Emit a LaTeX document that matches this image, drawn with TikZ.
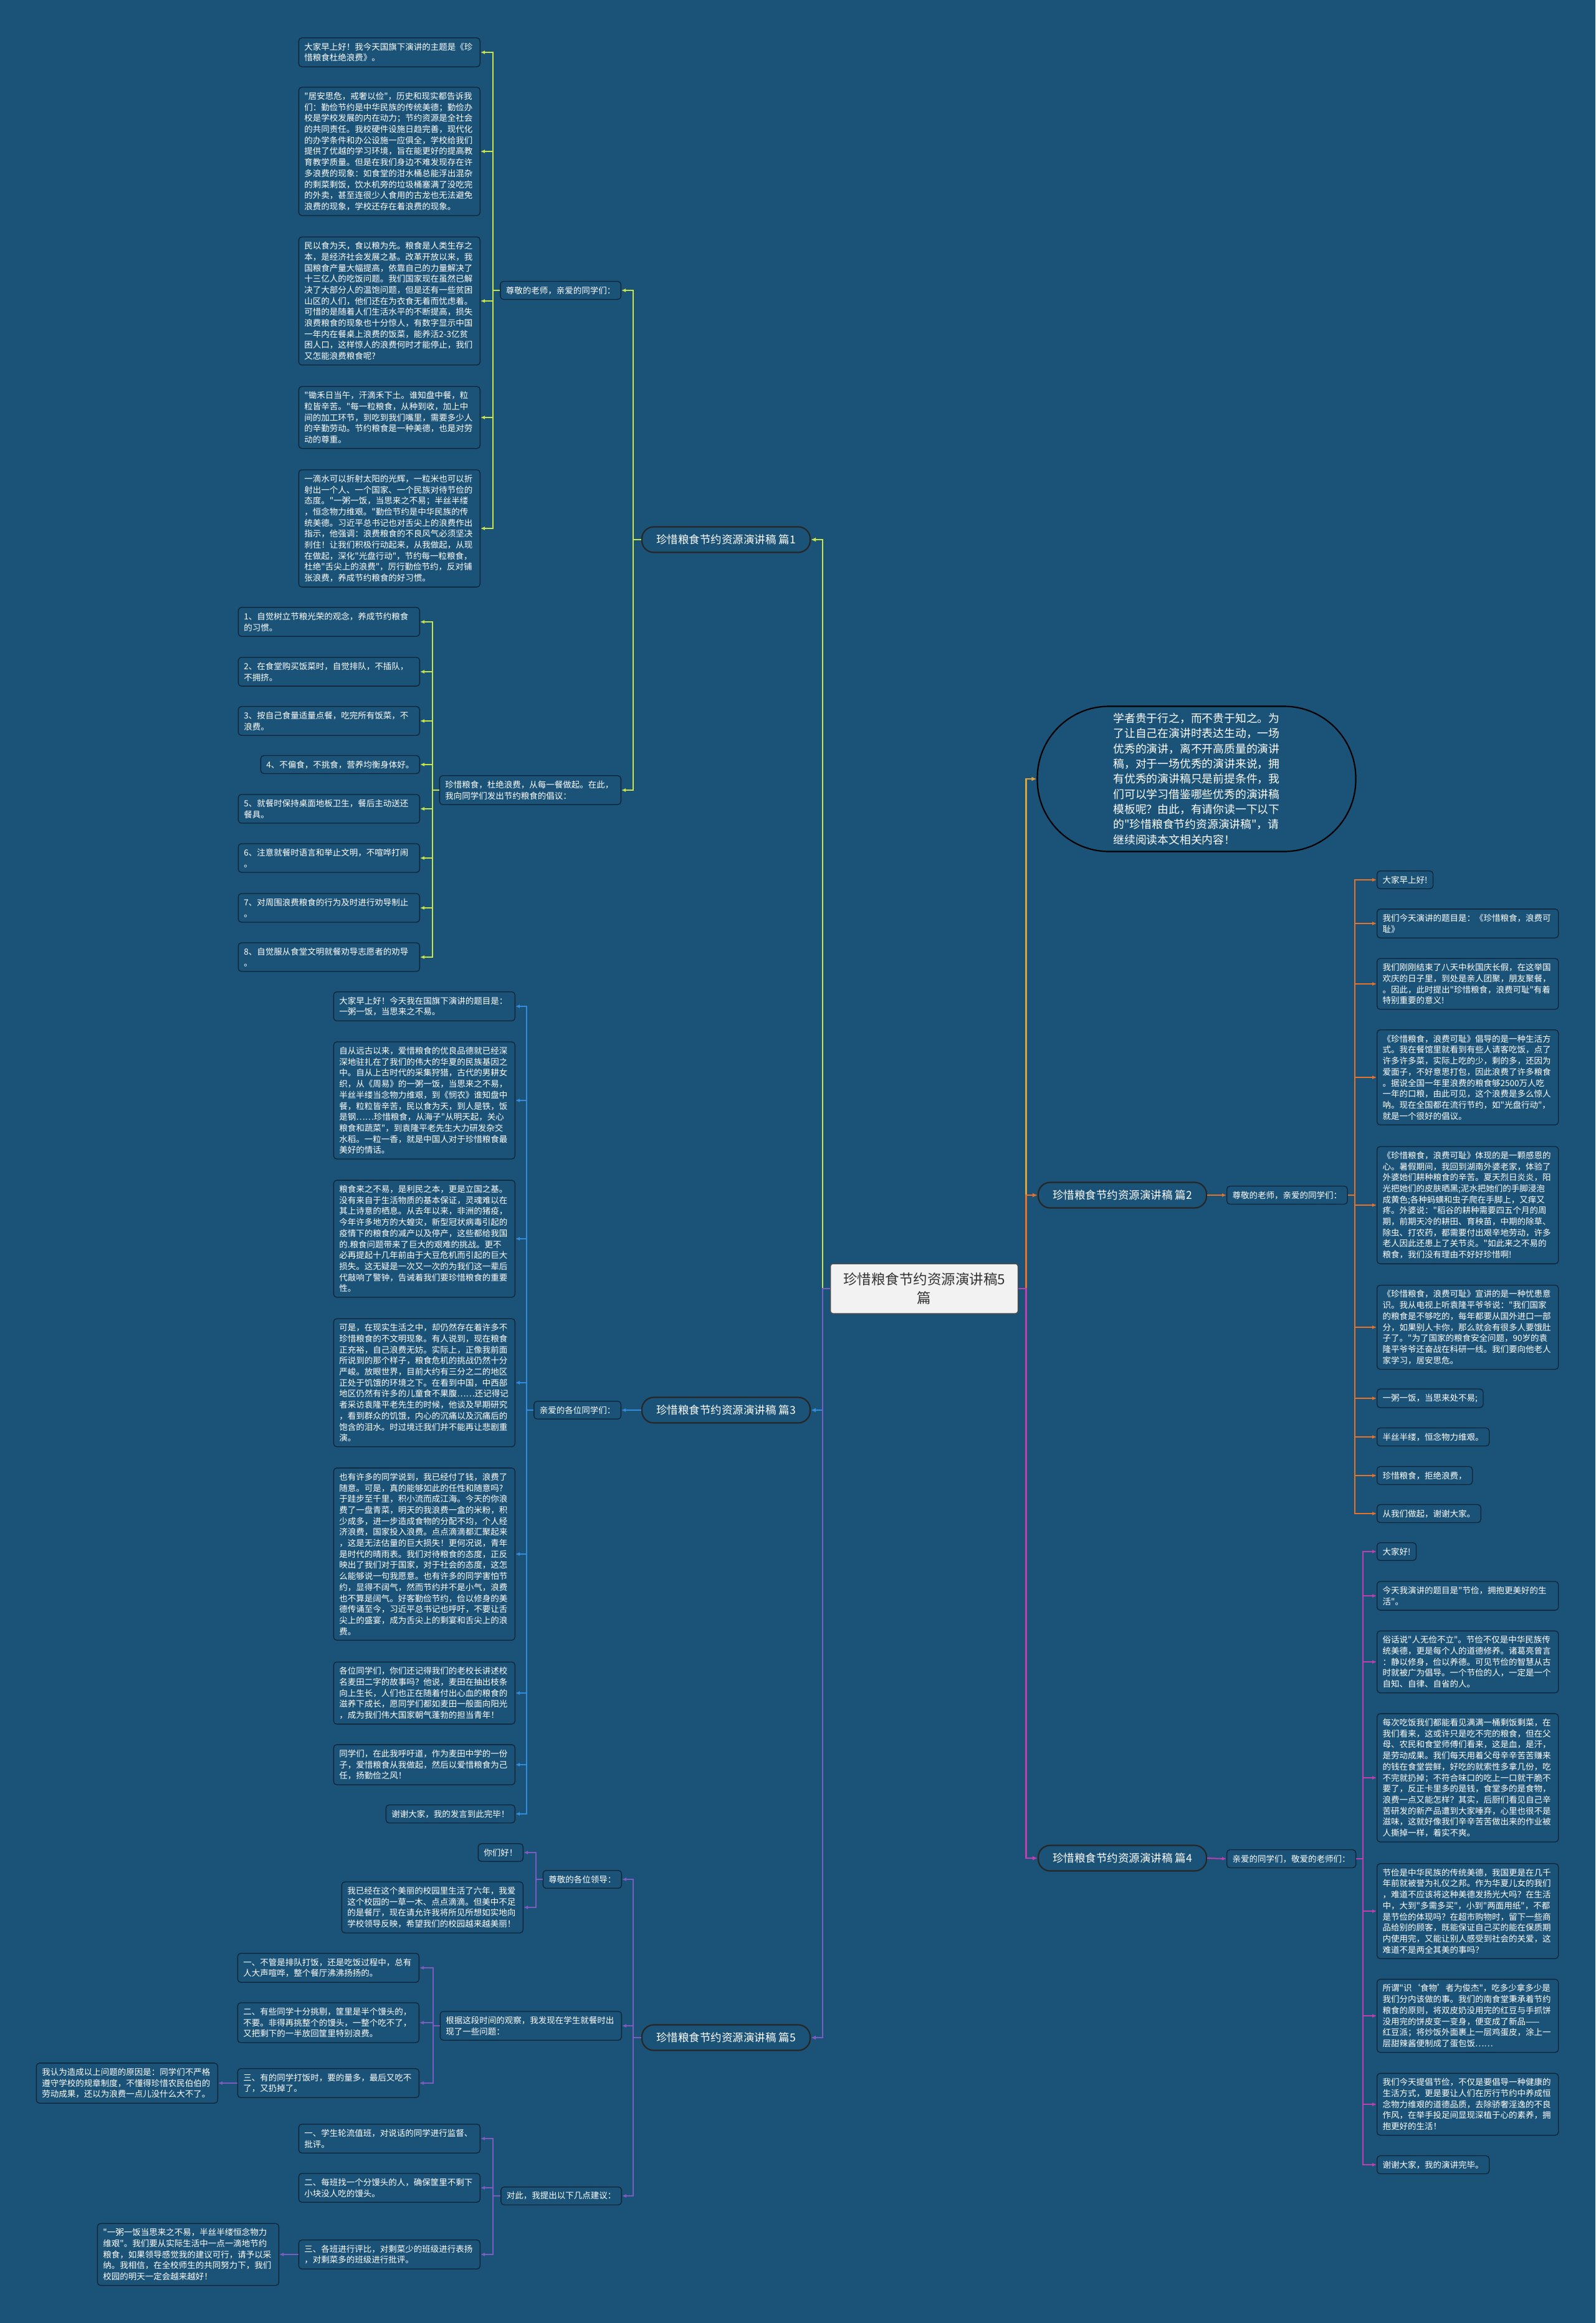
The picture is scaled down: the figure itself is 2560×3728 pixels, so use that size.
\documentclass[tikz,border=0pt]{standalone}
\usepackage{fontspec}
\setmainfont{Noto Sans CJK SC}[Ligatures=TeXOff]
\usetikzlibrary{arrows.meta}
\definecolor{bg}{RGB}{27,83,120}
\definecolor{boxline}{RGB}{14,36,54}
\definecolor{cyel}{RGB}{200,228,70}
\definecolor{cblue}{RGB}{52,140,220}
\definecolor{cpurp}{RGB}{125,92,192}
\definecolor{cgold}{RGB}{222,164,58}
\definecolor{corng}{RGB}{232,115,40}
\definecolor{cmag}{RGB}{192,62,176}
\definecolor{ctext}{RGB}{51,51,51}
\begin{document}
\begin{tikzpicture}[x=1pt,y=-1pt,
 box/.style={draw=boxline, fill=bg, line width=1.3pt, rounded corners=5pt, text=white, inner xsep=9pt, inner ysep=8pt, font=\fontsize{13.5pt}{17.7pt}\selectfont, align=left},
 wbox/.style={box, text width=273pt},
 branch/.style={draw=black!85, fill=bg, line width=2.2pt, rounded corners=19pt, text=white, font=\fontsize{17.5pt}{21pt}\selectfont, inner xsep=20pt, inner ysep=10pt, minimum width=270pt, minimum height=41pt},
 conn/.style={line width=2pt, -{Latex[length=7pt,width=6pt]}},
 main/.style={line width=2.5pt, -{Latex[length=8pt,width=7pt]}}
]
\fill[bg] (0,0) rectangle (2560,3728);
\useasboundingbox (0,0) rectangle (2560,3728);

% center
\node[draw=black!70, fill={rgb,255:red,242;green,242;blue,242}, line width=1.5pt, rounded corners=4pt, text=ctext, font=\fontsize{22.5pt}{30pt}\selectfont, align=center, minimum width=301pt, minimum height=80pt] (c) at (1483,2068) {珍惜粮食节约资源演讲稿5\\篇};

% branch nodes
\node[branch] (b1) at (1165,866) {珍惜粮食节约资源演讲稿 篇1};
\node[branch] (b3) at (1165,2263) {珍惜粮食节约资源演讲稿 篇3};
\node[branch] (b5) at (1165,3270) {珍惜粮食节约资源演讲稿 篇5};
\node[branch] (b2) at (1801,1918) {珍惜粮食节约资源演讲稿 篇2};
\node[branch] (b4) at (1801,2982) {珍惜粮食节约资源演讲稿 篇4};

% intro
\node[draw=black, fill=bg, line width=2.2pt, rounded corners=115pt, text=white, minimum width=511pt, minimum height=233pt, font=\fontsize{17.8pt}{24.3pt}\selectfont, align=left] (intro) at (1920,1250) {学者贵于行之，而不贵于知之。为\\了让自己在演讲时表达生动，一场\\优秀的演讲，离不开高质量的演讲\\稿，对于一场优秀的演讲来说，拥\\有优秀的演讲稿只是前提条件，我\\们可以学习借鉴哪些优秀的演讲稿\\模板呢？由此，有请你读一下以下\\的"珍惜粮食节约资源演讲稿"，请\\继续阅读本文相关内容！};

\draw[main, cgold] (c.east) -- ++(12,0) |- (intro.west);
\draw[main, corng] (c.east) -- ++(12,0) |- (b2.west);
\draw[main, cmag] (c.east) -- ++(12,0) |- (b4.west);
\draw[main, cyel] (c.west) -- ++(-12,0) |- (b1.east);
\draw[main, cblue] (c.west) -- ++(-12,0) |- (b3.east);
\draw[main, cpurp] (c.west) -- ++(-12,0) |- (b5.east);

% ---------- branch 1 ----------
\node[box, anchor=east] (b1c1) at (997,466) {尊敬的老师，亲爱的同学们：};
\node[wbox, anchor=east] (b1c2) at (997,1268) {珍惜粮食，杜绝浪费，从每一餐做起。在此，\\我向同学们发出节约粮食的倡议：};
\foreach \n in {b1c1,b1c2} \draw[conn, cyel] (b1.west) -- ++(-13,0) |- (\n.east);

\node[wbox, anchor=east] (b1g1) at (771,84) {大家早上好！我今天国旗下演讲的主题是《珍\\惜粮食杜绝浪费》。};
\node[wbox, anchor=east] (b1g2) at (771,243) {"居安思危，戒奢以俭"，历史和现实都告诉我\\们：勤俭节约是中华民族的传统美德；勤俭办\\校是学校发展的内在动力；节约资源是全社会\\的共同责任。我校硬件设施日趋完善，现代化\\的办学条件和办公设施一应俱全，学校给我们\\提供了优越的学习环境，旨在能更好的提高教\\育教学质量。但是在我们身边不难发现存在许\\多浪费的现象：如食堂的泔水桶总能浮出混杂\\的剩菜剩饭，饮水机旁的垃圾桶塞满了没吃完\\的外卖，甚至连很少人食用的古龙也无法避免\\浪费的现象，学校还存在着浪费的现象。};
\node[wbox, anchor=east] (b1g3) at (771,483) {民以食为天，食以粮为先。粮食是人类生存之\\本，是经济社会发展之基。改革开放以来，我\\国粮食产量大幅提高，依靠自己的力量解决了\\十三亿人的吃饭问题。我们国家现在虽然已解\\决了大部分人的温饱问题，但是还有一些贫困\\山区的人们，他们还在为衣食无着而忧虑着。\\可惜的是随着人们生活水平的不断提高，损失\\浪费粮食的现象也十分惊人，有数字显示中国\\一年内在餐桌上浪费的饭菜，能养活2-3亿贫\\困人口，这样惊人的浪费何时才能停止，我们\\又怎能浪费粮食呢?};
\node[wbox, anchor=east] (b1g4) at (771,670) {"锄禾日当午，汗滴禾下土。谁知盘中餐，粒\\粒皆辛苦。"每一粒粮食，从种到收，加上中\\间的加工环节，到吃到我们嘴里，需要多少人\\的辛勤劳动。节约粮食是一种美德，也是对劳\\动的尊重。};
\node[wbox, anchor=east] (b1g5) at (771,848) {一滴水可以折射太阳的光辉，一粒米也可以折\\射出一个人、一个国家、一个民族对待节俭的\\态度。"一粥一饭，当思来之不易；半丝半缕\\，恒念物力维艰。"勤俭节约是中华民族的传\\统美德。习近平总书记也对舌尖上的浪费作出\\指示，他强调：浪费粮食的不良风气必须坚决\\刹住！让我们积极行动起来，从我做起，从现\\在做起，深化"光盘行动"，节约每一粒粮食，\\杜绝"舌尖上的浪费"，厉行勤俭节约，反对铺\\张浪费，养成节约粮食的好习惯。};
\foreach \n in {b1g1,b1g2,b1g3,b1g4,b1g5} \draw[conn, cyel] (b1c1.west) -- ++(-11,0) |- (\n.east);

\node[wbox, anchor=east] (b1l1) at (674,998) {1、自觉树立节粮光荣的观念，养成节约粮食\\的习惯。};
\node[wbox, anchor=east] (b1l2) at (674,1078) {2、在食堂购买饭菜时，自觉排队，不插队，\\不拥挤。};
\node[wbox, anchor=east] (b1l3) at (674,1157) {3、按自己食量适量点餐，吃完所有饭菜，不\\浪费。};
\node[box, anchor=east] (b1l4) at (674,1227) {4、不偏食，不挑食，营养均衡身体好。};
\node[wbox, anchor=east] (b1l5) at (674,1298) {5、就餐时保持桌面地板卫生，餐后主动送还\\餐具。};
\node[wbox, anchor=east] (b1l6) at (674,1377) {6、注意就餐时语言和举止文明，不喧哗打闹\\。};
\node[wbox, anchor=east] (b1l7) at (674,1457) {7、对周围浪费粮食的行为及时进行劝导制止\\。};
\node[wbox, anchor=east] (b1l8) at (674,1536) {8、自觉服从食堂文明就餐劝导志愿者的劝导\\。};
\foreach \n in {b1l1,b1l2,b1l3,b1l4,b1l5,b1l6,b1l7,b1l8} \draw[conn, cyel] (b1c2.west) -- ++(-11,0) |- (\n.east);

% ---------- branch 3 ----------
\node[box, anchor=east] (b3c) at (997,2263) {亲爱的各位同学们：};
\draw[conn, cblue] (b3.west) -- (b3c.east);
\node[wbox, anchor=east] (b3g1) at (827,1615) {大家早上好！今天我在国旗下演讲的题目是：\\一粥一饭，当思来之不易。};
\node[wbox, anchor=east] (b3g2) at (827,1766) {自从远古以来，爱惜粮食的优良品德就已经深\\深地驻扎在了我们的伟大的华夏的民族基因之\\中。自从上古时代的采集狩猎，古代的男耕女\\织，从《周易》的一粥一饭，当思来之不易，\\半丝半缕当念物力维艰，到《悯农》谁知盘中\\餐，粒粒皆辛苦，民以食为天，到人是铁，饭\\是钢……珍惜粮食，从海子"从明天起，关心\\粮食和蔬菜"，到袁隆平老先生大力研发杂交\\水稻。一粒一香，就是中国人对于珍惜粮食最\\美好的情话。};
\node[wbox, anchor=east] (b3g3) at (827,1988) {粮食来之不易，是利民之本，更是立国之基。\\没有来自于生活物质的基本保证，灵魂难以在\\其上诗意的栖息。从去年以来，非洲的猪疫，\\今年许多地方的大蝗灾，新型冠状病毒引起的\\疫情下的粮食的减产以及停产，这些都给我国\\的.粮食问题带来了巨大的艰难的挑战。更不\\必再提起十几年前由于大豆危机而引起的巨大\\损失。这无疑是一次又一次的为我们这一辈后\\代敲响了警钟，告诫着我们要珍惜粮食的重要\\性。};
\node[wbox, anchor=east] (b3g4) at (827,2219) {可是，在现实生活之中，却仍然存在着许多不\\珍惜粮食的不文明现象。有人说到，现在粮食\\正充裕，自己浪费无妨。实际上，正像我前面\\所说到的那个样子，粮食危机的挑战仍然十分\\严峻。放眼世界，目前大约有三分之二的地区\\正处于饥饿的环境之下。在看到中国，中西部\\地区仍然有许多的儿童食不果腹……还记得记\\者采访袁隆平老先生的时候，他谈及早期研究\\，看到群众的饥饿，内心的沉痛以及沉痛后的\\饱含的泪水。时过境迁我们并不能再让悲剧重\\演。};
\node[wbox, anchor=east] (b3g5) at (827,2494) {也有许多的同学说到，我已经付了钱，浪费了\\随意。可是，真的能够如此的任性和随意吗?\\于跬步至千里，积小流而成江海。今天的你浪\\费了一盘青菜，明天的我浪费一盒的米粉，积\\少成多，进一步造成食物的分配不均，个人经\\济浪费，国家投入浪费。点点滴滴都汇聚起来\\，这是无法估量的巨大损失！更何况说，青年\\是时代的晴雨表。我们对待粮食的态度，正反\\映出了我们对于国家，对于社会的态度，这怎\\么能够说一句我愿意。也有许多的同学害怕节\\约，显得不阔气，然而节约并不是小气，浪费\\也不算是阔气。好客勤俭节约，俭以修身的美\\德传诵至今，习近平总书记也呼吁，不要让舌\\尖上的盛宴，成为舌尖上的剩宴和舌尖上的浪\\费。};
\node[wbox, anchor=east] (b3g6) at (827,2717) {各位同学们，你们还记得我们的老校长讲述校\\名麦田二字的故事吗？他说，麦田在抽出枝条\\向上生长，人们也正在随着付出心血的粮食的\\滋养下成长，愿同学们都如麦田一般面向阳光\\，成为我们伟大国家朝气蓬勃的担当青年！};
\node[wbox, anchor=east] (b3g7) at (827,2832) {同学们，在此我呼吁道，作为麦田中学的一份\\子，爱惜粮食从我做起，然后以爱惜粮食为己\\任，扬勤俭之风！};
\node[box, anchor=east] (b3g8) at (827,2911) {谢谢大家，我的发言到此完毕！};
\foreach \n in {b3g1,b3g2,b3g3,b3g4,b3g5,b3g6,b3g7,b3g8} \draw[conn, cblue] (b3c.west) -- ++(-11,0) |- (\n.east);

% ---------- branch 5 ----------
\node[box, anchor=east] (b5c1) at (998,3016) {尊敬的各位领导：};
\node[wbox, anchor=east] (b5c2) at (998,3251) {根据这段时间的观察，我发现在学生就餐时出\\现了一些问题：};
\node[box, anchor=east] (b5c3) at (998,3524) {对此，我提出以下几点建议：};
\foreach \n in {b5c1,b5c2,b5c3} \draw[conn, cpurp] (b5.west) -- ++(-13,0) |- (\n.east);

\node[box, anchor=east] (b5a1) at (840,2973) {你们好！};
\node[wbox, anchor=east] (b5a2) at (840,3061) {我已经在这个美丽的校园里生活了六年，我爱\\这个校园的一草一木、点点滴滴。但美中不足\\的是餐厅，现在请允许我将所见所想如实地向\\学校领导反映，希望我们的校园越来越美丽！};
\foreach \n in {b5a1,b5a2} \draw[conn, cpurp] (b5c1.west) -- ++(-11,0) |- (\n.east);

\node[wbox, anchor=east] (b5b1) at (673,3158) {一、不管是排队打饭，还是吃饭过程中，总有\\人大声喧哗，整个餐厅沸沸扬扬的。};
\node[wbox, anchor=east] (b5b2) at (673,3246) {二、有些同学十分挑剔，筐里是半个馒头的，\\不要。非得再挑整个的馒头，一整个吃不了，\\又把剩下的一半放回筐里特别浪费。};
\node[wbox, anchor=east] (b5b3) at (673,3343) {三、有的同学打饭时，要的量多，最后又吃不\\了，又扔掉了。};
\foreach \n in {b5b1,b5b2,b5b3} \draw[conn, cpurp] (b5c2.west) -- ++(-11,0) |- (\n.east);
\node[wbox, anchor=east] (b5bx) at (350,3343) {我认为造成以上问题的原因是：同学们不严格\\遵守学校的规章制度，不懂得珍惜农民伯伯的\\劳动成果，还以为浪费一点儿没什么大不了。};
\draw[conn, cpurp] (b5b3.west) -- (b5bx.east);

\node[wbox, anchor=east] (b5d1) at (771,3432) {一、学生轮流值班，对说话的同学进行监督、\\批评。};
\node[wbox, anchor=east] (b5d2) at (771,3511) {二、每班找一个分馒头的人，确保筐里不剩下\\小块没人吃的馒头。};
\node[wbox, anchor=east] (b5d3) at (771,3618) {三、各班进行评比，对剩菜少的班级进行表扬\\，对剩菜多的班级进行批评。};
\foreach \n in {b5d1,b5d2,b5d3} \draw[conn, cpurp] (b5c3.west) -- ++(-12,0) |- (\n.east);
\node[wbox, anchor=east] (b5dx) at (448,3618) {"一粥一饭当思来之不易，半丝半缕恒念物力\\维艰"。我们要从实际生活中一点一滴地节约\\粮食，如果领导感觉我的建议可行，请予以采\\纳。我相信，在全校师生的共同努力下，我们\\校园的明天一定会越来越好！};
\draw[conn, cpurp] (b5d3.west) -- (b5dx.east);

% ---------- branch 2 ----------
\node[box, anchor=west] (b2c) at (1968,1918) {尊敬的老师，亲爱的同学们：};
\draw[conn, corng] (b2.east) -- (b2c.west);
\node[box, anchor=west] (b2g1) at (2209,1412) {大家早上好!};
\node[wbox, anchor=west] (b2g2) at (2209,1482) {我们今天演讲的题目是：《珍惜粮食，浪费可\\耻》};
\node[wbox, anchor=west] (b2g3) at (2209,1579) {我们刚刚结束了八天中秋国庆长假，在这举国\\欢庆的日子里，到处是亲人团聚，朋友聚餐，\\。因此，此时提出"珍惜粮食，浪费可耻"有着\\特别重要的意义!};
\node[wbox, anchor=west] (b2g4) at (2209,1729) {《珍惜粮食，浪费可耻》倡导的是一种生活方\\式。我在餐馆里就看到有些人请客吃饭，点了\\许多许多菜，实际上吃的少，剩的多，还因为\\爱面子，不好意思打包，因此浪费了许多粮食\\。据说全国一年里浪费的粮食够2500万人吃\\一年的口粮，由此可见，这个浪费是多么惊人\\呐。现在全国都在流行节约，如"光盘行动"，\\就是一个很好的倡议。};
\node[wbox, anchor=west] (b2g5) at (2209,1934) {《珍惜粮食，浪费可耻》体现的是一颗感恩的\\心。暑假期间，我回到湖南外婆老家，体验了\\外婆她们耕种粮食的辛苦。夏天烈日炎炎，阳\\光把她们的皮肤晒黑;泥水把她们的手脚浸泡\\成黄色;各种蚂蟥和虫子爬在手脚上，又痒又\\疼。外婆说："稻谷的耕种需要四五个月的周\\期，前期天冷的耕田、育秧苗，中期的除草、\\除虫、打农药，都需要付出艰辛地劳动，许多\\老人因此还患上了关节炎。"如此来之不易的\\粮食，我们没有理由不好好珍惜啊!};
\node[wbox, anchor=west] (b2g6) at (2209,2130) {《珍惜粮食，浪费可耻》宣讲的是一种忧患意\\识。我从电视上听袁隆平爷爷说："我们国家\\的粮食是不够吃的，每年都要从国外进口一部\\分，如果别人卡你，那么就会有很多人要饿肚\\子了。"为了国家的粮食安全问题，90岁的袁\\隆平爷爷还奋战在科研一线。我们要向他老人\\家学习，居安思危。};
\node[box, anchor=west] (b2g7) at (2209,2244) {一粥一饭，当思来处不易;};
\node[box, anchor=west] (b2g8) at (2209,2306) {半丝半缕，恒念物力维艰。};
\node[box, anchor=west] (b2g9) at (2209,2368) {珍惜粮食，拒绝浪费，};
\node[box, anchor=west] (b2g10) at (2209,2429) {从我们做起，谢谢大家。};
\foreach \n in {b2g1,b2g2,b2g3,b2g4,b2g5,b2g6,b2g7,b2g8,b2g9,b2g10} \draw[conn, corng] (b2c.east) -- ++(11,0) |- (\n.west);

% ---------- branch 4 ----------
\node[box, anchor=west] (b4c) at (1968,2983) {亲爱的同学们，敬爱的老师们：};
\draw[conn, cmag] (b4.east) -- (b4c.west);
\node[box, anchor=west] (b4g1) at (2209,2490) {大家好!};
\node[wbox, anchor=west] (b4g2) at (2209,2561) {今天我演讲的题目是"节俭，拥抱更美好的生\\活"。};
\node[wbox, anchor=west] (b4g3) at (2209,2667) {俗话说"人无俭不立"。节俭不仅是中华民族传\\统美德，更是每个人的道德修养。诸葛亮曾言\\：静以修身，俭以养德。可见节俭的智慧从古\\时就被广为倡导。一个节俭的人，一定是一个\\自知、自律、自省的人。};
\node[wbox, anchor=west] (b4g4) at (2209,2853) {每次吃饭我们都能看见满满一桶剩饭剩菜，在\\我们看来，这或许只是吃不完的粮食，但在父\\母、农民和食堂师傅们看来，这是血，是汗，\\是劳动成果。我们每天用着父母辛辛苦苦赚来\\的钱在食堂尝鲜，好吃的就索性多拿几份，吃\\不完就扔掉；不符合味口的吃上一口就干脆不\\要了，反正卡里多的是钱，食堂多的是食物，\\浪费一点又能怎样？其实，后厨们看见自己辛\\苦研发的新产品遭到大家唾弃，心里也很不是\\滋味，这就好像我们辛辛苦苦做出来的作业被\\人撕掉一样，着实不爽。};
\node[wbox, anchor=west] (b4g5) at (2209,3067) {节俭是中华民族的传统美德，我国更是在几千\\年前就被誉为礼仪之邦。作为华夏儿女的我们\\，难道不应该将这种美德发扬光大吗？在生活\\中，大到"多需多买"，小到"两面用纸"，不都\\是节俭的体现吗？在超市购物时，留下一些商\\品给别的顾客，既能保证自己买的能在保质期\\内使用完，又能让别人感受到社会的关爱，这\\难道不是两全其美的事吗？};
\node[wbox, anchor=west] (b4g6) at (2209,3235) {所谓"识‘食物’者为俊杰"，吃多少拿多少是\\我们分内该做的事。我们的南食堂秉承着节约\\粮食的原则，将双皮奶没用完的红豆与手抓饼\\没用完的饼皮变一变身，便变成了新品——\\红豆派；将炒饭外面裹上一层鸡蛋皮，涂上一\\层甜辣酱便制成了蛋包饭……};
\node[wbox, anchor=west] (b4g7) at (2209,3377) {我们今天提倡节俭，不仅是要倡导一种健康的\\生活方式，更是要让人们在厉行节约中养成恒\\念物力维艰的道德品质，去除骄奢淫逸的不良\\作风，在举手投足间显现深植于心的素养，拥\\抱更好的生活！};
\node[box, anchor=west] (b4g8) at (2209,3474) {谢谢大家，我的演讲完毕。};
\foreach \n in {b4g1,b4g2,b4g3,b4g4,b4g5,b4g6,b4g7,b4g8} \draw[conn, cmag] (b4c.east) -- ++(11,0) |- (\n.west);
\end{tikzpicture}
\end{document}
